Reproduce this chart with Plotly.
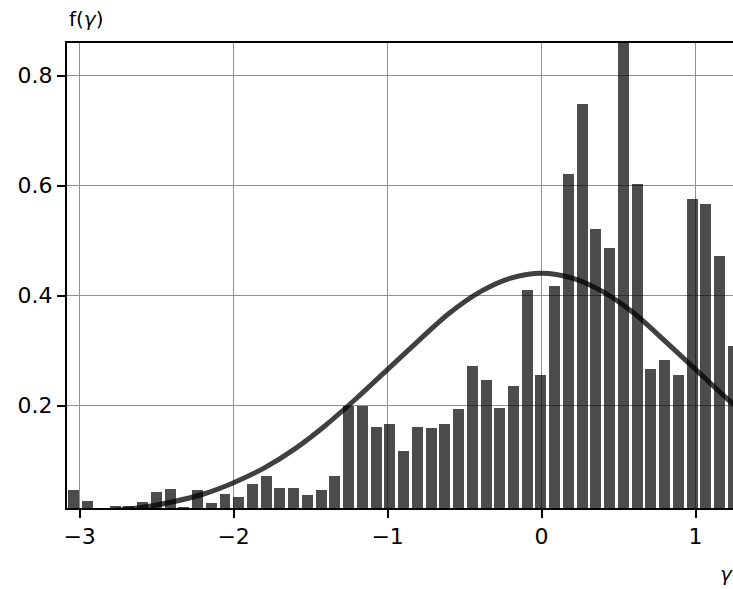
import plotly.graph_objects as go

# ---- data ----
bin_centers = [-3.037, -2.948, -2.859, -2.770, -2.681, -2.591, -2.502, -2.413, -2.324, -2.235,
               -2.145, -2.056, -1.967, -1.878, -1.789, -1.699, -1.610, -1.521, -1.432, -1.343,
               -1.253, -1.164, -1.075, -0.986, -0.897, -0.807, -0.718, -0.629, -0.540, -0.451,
               -0.361, -0.272, -0.183, -0.094, -0.005, 0.085, 0.174, 0.263, 0.352, 0.441,
               0.531, 0.620, 0.709, 0.798, 0.887, 0.977, 1.066, 1.155, 1.244]
bin_heights = [0.046, 0.027, 0.0, 0.018, 0.018, 0.025, 0.044, 0.048, 0.015, 0.047,
               0.023, 0.040, 0.034, 0.058, 0.073, 0.050, 0.050, 0.038, 0.046, 0.0715,
               0.199, 0.199, 0.162, 0.167, 0.118, 0.162, 0.159, 0.167, 0.194, 0.273,
               0.246, 0.196, 0.235, 0.411, 0.255, 0.418, 0.622, 0.749, 0.521, 0.487,
               0.880, 0.604, 0.267, 0.284, 0.256, 0.575, 0.567, 0.473, 0.309]
bin_width = 0.0892

curve_x = [-3.08, -2.8, -2.6, -2.4, -2.2, -2.0, -1.8, -1.6, -1.4, -1.2, -1.0, -0.8,
           -0.6, -0.4, -0.2, 0.0, 0.2, 0.4, 0.6, 0.8, 1.0, 1.2, 1.3]
curve_y = [0.004, 0.009, 0.015, 0.025, 0.039, 0.060, 0.087, 0.122, 0.165, 0.214, 0.266, 0.318,
           0.368, 0.407, 0.432, 0.441, 0.432, 0.407, 0.368, 0.318, 0.266, 0.214, 0.190]

x_ticks = [-3, -2, -1, 0, 1]
x_tick_labels = ["\u22123", "\u22122", "\u22121", "0", "1"]
y_ticks = [0.2, 0.4, 0.6, 0.8]
y_tick_labels = ["0.2", "0.4", "0.6", "0.8"]

FONT = "DejaVu Sans"

fig = go.Figure()
fig.add_trace(go.Bar(
    x=bin_centers, y=bin_heights, width=bin_width * 0.8,
    marker=dict(color="rgba(0,0,0,0.70)", line=dict(width=0)),
    showlegend=False, hoverinfo="skip",
))
fig.add_trace(go.Scatter(
    x=curve_x, y=curve_y, mode="lines",
    line=dict(color="rgba(0,0,0,0.75)", width=5, shape="spline", smoothing=0.8),
    showlegend=False, hoverinfo="skip",
))

fig.update_layout(
    width=733, height=589,
    margin=dict(l=67, r=0, t=43, b=81),
    paper_bgcolor="white", plot_bgcolor="white",
    font=dict(family=FONT, size=22, color="black"),
    bargap=0,
    xaxis=dict(
        range=[-3.082, 1.243], tickmode="array", tickvals=x_ticks, ticktext=x_tick_labels,
        showgrid=True, gridcolor="#909090", gridwidth=1.3,
        showline=True, linecolor="black", linewidth=2, mirror=True,
        ticks="outside", ticklen=8, tickwidth=2, tickcolor="black",
        zeroline=False, tickfont=dict(family=FONT, size=22),
    ),
    yaxis=dict(
        range=[0.014, 0.8595], tickmode="array", tickvals=y_ticks, ticktext=y_tick_labels,
        showgrid=True, gridcolor="#909090", gridwidth=1.3,
        showline=True, linecolor="black", linewidth=2, mirror=False,
        ticks="outside", ticklen=8, tickwidth=2, tickcolor="black",
        zeroline=False, tickfont=dict(family=FONT, size=22),
    ),
    annotations=[
        dict(text="f(<i>\u03b3</i>)", xref="paper", yref="paper", x=0.0, y=1.051,
             xanchor="left", yanchor="middle", showarrow=False,
             font=dict(family=FONT, size=20, color="black")),
        dict(text="<i>\u03b3</i>", xref="paper", yref="paper", x=0.978, y=-0.143,
             xanchor="left", yanchor="middle", showarrow=False,
             font=dict(family=FONT, size=20, color="black")),
    ],
)

fig.write_html("out.html")
